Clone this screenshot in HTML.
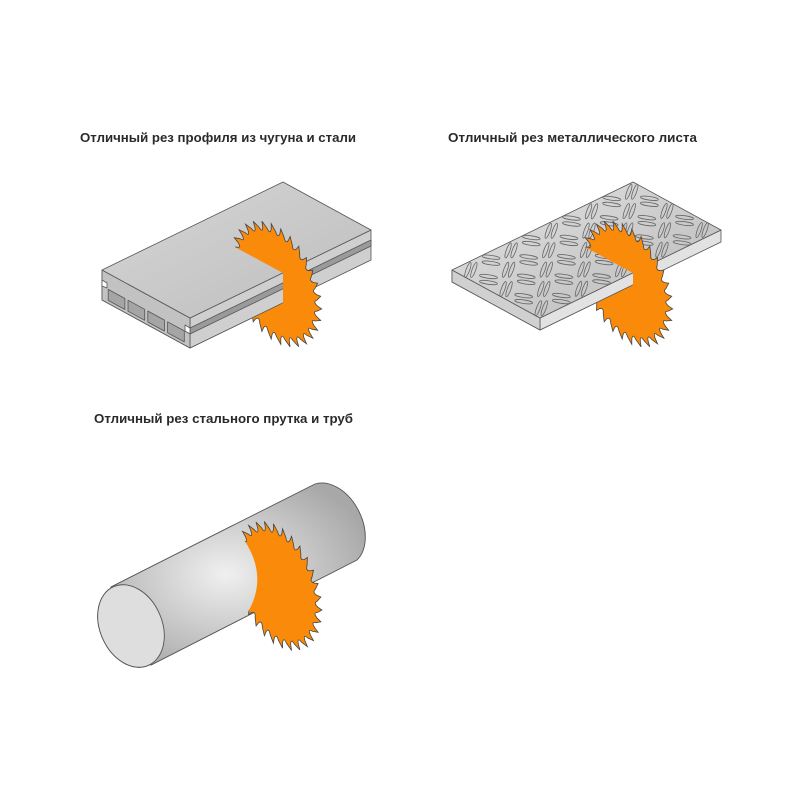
<!DOCTYPE html>
<html><head><meta charset="utf-8"><style>
html,body{margin:0;padding:0;background:#fff;}
svg{display:block}
text{font-family:"Liberation Sans",sans-serif;font-weight:bold;font-size:13px;fill:#2a2a2a}
</style></head><body>
<svg id="s" width="800" height="800" viewBox="0 0 800 800" xmlns="http://www.w3.org/2000/svg">
<defs>
<linearGradient id="gt" x1="0" y1="0" x2="1" y2="1"><stop offset="0" stop-color="#d6d6d6"/><stop offset="1" stop-color="#bdbdbd"/></linearGradient>
<linearGradient id="gp" x1="0" y1="0" x2="1" y2="1"><stop offset="0" stop-color="#e4e4e4"/><stop offset="1" stop-color="#b8b8b8"/></linearGradient>
<radialGradient id="gc" cx="0.45" cy="0.5" r="0.6"><stop offset="0" stop-color="#f0f0f0"/><stop offset="1" stop-color="#a8a8a8"/></radialGradient>
<clipPath id="c1"><polygon points="102,270 233,246 283,273 283,303 190,360 90,310"/></clipPath>
<clipPath id="c2"><polygon points="452,270 583,246 633,273 633,285 540,345 440,290"/></clipPath>
<clipPath id="c3"><path d="M230,480 L234,527 Q272,570 248,612 L240,720 L60,720 L60,480 Z"/></clipPath>
</defs>
<text x="80" y="142" textLength="276" lengthAdjust="spacingAndGlyphs">Отличный рез профиля из чугуна и стали</text>
<text x="448" y="142" textLength="249" lengthAdjust="spacingAndGlyphs">Отличный рез металлического листа</text>
<text x="94" y="423" textLength="259" lengthAdjust="spacingAndGlyphs">Отличный рез стального прутка и труб</text>

<g id="slab1" stroke="#555" stroke-width="0.8" stroke-linejoin="round">
<polygon points="190,318 371,230 371,260 190,348" fill="#cfcfcf"/>
<polygon points="190,328 371,240 371,246 190,334" fill="#9a9a9a"/>
<polygon points="102,270 190,318 190,348 102,300" fill="#c2c2c2"/>
<polygon points="102,280 107,283 107,288 102,286" fill="#fff"/>
<polygon points="185,325 190,328 190,334 185,331" fill="#fff"/>
<polygon points="102,270 283,182 371,230 190,318" fill="url(#gt)"/>
<g id="cells" fill="#a5a5a5"></g>
</g>
<g id="saw1"></g>
<use href="#slab1" clip-path="url(#c1)"/>

<g id="slab2" stroke="#555" stroke-width="0.8" stroke-linejoin="round">
<polygon points="540,318 721,230 721,242 540,330" fill="#e2e2e2"/>
<polygon points="452,270 540,318 540,330 452,282" fill="#d0d0d0"/>
<polygon points="452,270 633,182 721,230 540,318" fill="url(#gp)"/>
<g id="pat" fill="none" stroke="#666" stroke-width="0.8"></g>
</g>
<g id="saw2"></g>
<use href="#slab2" clip-path="url(#c2)"/>

<g id="cyl" stroke="#555" stroke-width="0.9">
<path d="M111,587 L315,484 A44,30 63 0,1 357,560 L151,665 Z" fill="url(#gc)"/>
<ellipse cx="131" cy="626" rx="43" ry="31" transform="rotate(66 131 626)" fill="#dedede"/>
</g>
<g id="saw3"></g>
<use href="#cyl" clip-path="url(#c3)"/>
</svg>
<script>
var NS="http://www.w3.org/2000/svg";
function saw(id,cx,cy,rx,ry,n){
 var ux=0.878,uy=0.479;
 function pt(t,r){var x=cx+Math.cos(t)*rx*r*ux, y=cy+Math.cos(t)*rx*r*uy+Math.sin(t)*ry*r;return x.toFixed(1)+","+y.toFixed(1);}
 var st=2*Math.PI/n,d="";
 for(var i=0;i<n;i++){
  var a=i*st;
  d+=(i==0?"M":"L")+pt(a,1)+" L"+pt(a+0.45*st,0.9)+" Q"+pt(a+0.75*st,0.8)+" "+pt(a+0.95*st,0.91)+" ";
 }
 d+="Z";
 var p=document.createElementNS(NS,"path");
 p.setAttribute("d",d);p.setAttribute("fill","#f98a0a");
 p.setAttribute("stroke","#444");p.setAttribute("stroke-width","0.8");
 document.getElementById(id).appendChild(p);
}
saw("saw1",276,284,52,58,30);saw("saw2",627,284,52,58,30);saw("saw3",278,586,50,60,30);
var cg=document.getElementById("cells");
function P(u,v){return (102+88*u).toFixed(1)+","+(270+48*u+v).toFixed(1);}
for(var k=0;k<4;k++){var u0=0.07+k*0.225,u1=u0+0.19;
 var p=document.createElementNS(NS,"polygon");
 p.setAttribute("points",[P(u0,16),P(u1,16),P(u1,27),P(u0,27)].join(" "));
 cg.appendChild(p);}
var pg=document.getElementById("pat");
for(var i=0;i<5;i++)for(var j=0;j<9;j++){
 var a=(i+0.5)/5,b=(j+0.5)/9;
 var x=452+88*a+181*b,y=270+48*a-88*b;
 var vert=(i+j)%2==0;
 for(var s=-1;s<=1;s+=2){
  var e=document.createElementNS(NS,"ellipse");
  if(vert){e.setAttribute("cx",x+s*3);e.setAttribute("cy",y);e.setAttribute("rx",1.8);e.setAttribute("ry",8);
   e.setAttribute("transform","rotate(20 "+(x+s*3)+" "+y+")");}
  else{e.setAttribute("cx",x);e.setAttribute("cy",y+s*3);e.setAttribute("rx",9);e.setAttribute("ry",1.8);
   e.setAttribute("transform","rotate(8 "+x+" "+(y+s*3)+")");}
  pg.appendChild(e);}
}
</script>
</body></html>
